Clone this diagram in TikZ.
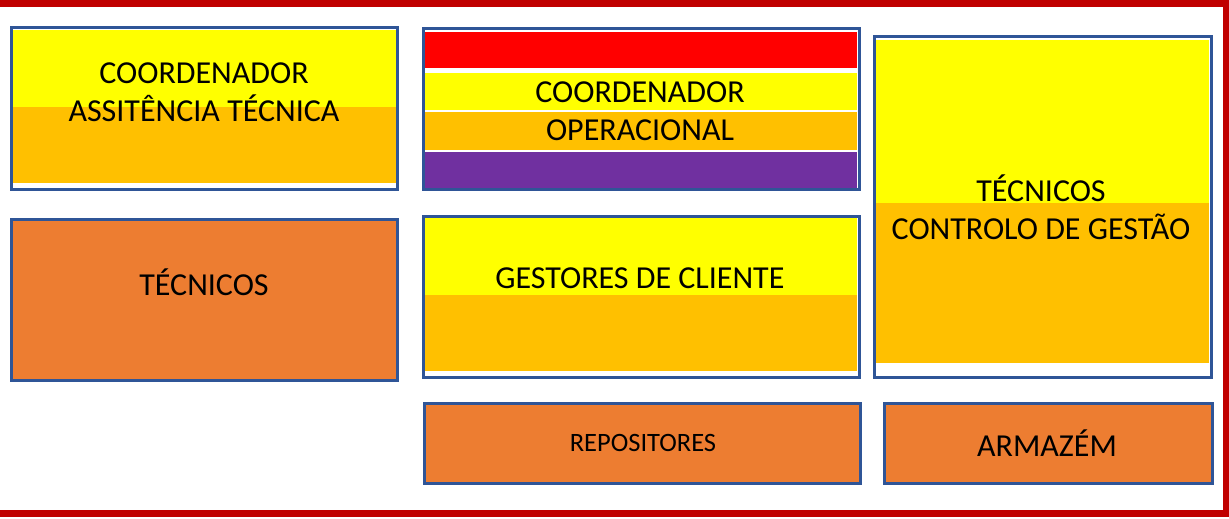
\documentclass[tikz,border=0pt]{standalone}
\usepackage{fontspec}
\setmainfont{Carlito}
\usetikzlibrary{positioning}
\definecolor{framered}{RGB}{192,0,0}
\definecolor{boxblue}{RGB}{47,85,151}
\definecolor{brightyellow}{RGB}{255,255,0}
\definecolor{gold}{RGB}{255,192,0}
\definecolor{darkorange}{RGB}{237,125,49}
\definecolor{flagred}{RGB}{255,0,0}
\definecolor{purple}{RGB}{112,48,160}
\begin{document}
\begin{tikzpicture}[x=1pt, y=-1pt,
  box/.style={draw=boxblue, line width=3pt, inner sep=0pt},
  lbl/.style={font=\fontsize{32}{38}\selectfont, align=center},
  smalllbl/.style={font=\fontsize{26.5}{31}\selectfont}]
\useasboundingbox (0,0) rectangle (1229,519);

% Frame
\fill[framered] (0,0) rectangle (1229,7);
\fill[framered] (1223,0) rectangle (1229,517);
\fill[framered] (0,510) rectangle (1229,517);

% Coordenador assistencia tecnica
\fill[brightyellow] (12,30) rectangle (396,107);
\fill[gold] (12,107) rectangle (396,183);
\node[box, minimum width=386pt, minimum height=161pt] (coordat) at (204,108.5) {};
\node[lbl] (coordatText) at (204,92) {COORDENADOR\\ASSITÊNCIA TÉCNICA};

% Coordenador operacional
\fill[flagred] (425,32) rectangle (857,68);
\fill[brightyellow] (425,73) rectangle (857,110);
\fill[gold] (425,111.5) rectangle (857,150);
\fill[purple] (425,151.5) rectangle (857,188);
\node[box, minimum width=436pt, minimum height=160pt] (coordop) at (641,109) {};
\node[lbl] (coordopText) at (640,111) {COORDENADOR\\OPERACIONAL};

% Tecnicos controlo de gestao
\fill[brightyellow] (876,40) rectangle (1209,203);
\fill[gold] (876,203) rectangle (1209,363);
\node[box, minimum width=337pt, minimum height=340pt] (tcg) at (1042.5,207) {};
\node[lbl] (tcgText) at (1041,207) {TÉCNICOS\\CONTROLO DE GESTÃO};

% Gestores de cliente
\fill[brightyellow] (425,218) rectangle (857,295);
\fill[gold] (425,295) rectangle (857,371);
\node[box, minimum width=436pt, minimum height=161pt] (gestores) at (641,296.5) {};
\node[lbl] (gestoresText) at (640,278) {GESTORES DE CLIENTE};

% Tecnicos
\node[box, fill=darkorange, minimum width=386pt, minimum height=161pt] (tecnicos) at (204,299.5) {};
\node[lbl] (tecnicosText) at (204,282) {TÉCNICOS};

% Repositores / armazem
\node[box, fill=darkorange, minimum width=436pt, minimum height=80pt] (repos) at (642,443) {};
\node[smalllbl] (reposText) at (643,443) {REPOSITORES};
\node[box, fill=darkorange, minimum width=328pt, minimum height=80pt] (armazem) at (1048,443) {};
\node[lbl] (armazemText) at (1047,443) {ARMAZÉM};
\end{tikzpicture}
\end{document}
